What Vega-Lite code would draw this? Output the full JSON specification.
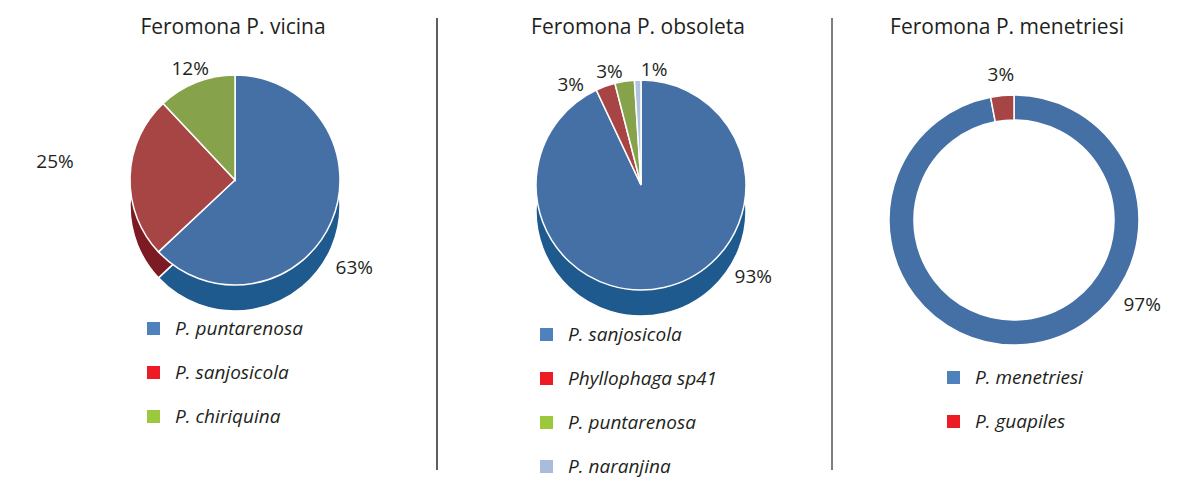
{
  "$schema": "https://vega.github.io/schema/vega-lite/v6.json",
  "background": "white",
  "padding": {"left": 0, "right": 0, "top": 16, "bottom": 0},
  "spacing": 0,
  "config": {
    "view": {"stroke": null},
    "font": "Open Sans",
    "title": {"font": "Open Sans", "fontSize": 21, "fontWeight": "normal", "color": "#231f20", "anchor": "middle", "baseline": "alphabetic", "offset": -20}
  },
  "hconcat": [
    {
      "width": 436, "height": 452,
      "title": {"text": "Feromona P. vicina", "dx": 15},
      "data": {"values": [
        {"species": "P. puntarenosa", "pct": 0.63, "idx": 1},
        {"species": "P. sanjosicola", "pct": 0.25, "idx": 2},
        {"species": "P. chiriquina", "pct": 0.12, "idx": 3}
      ]},
      "layer": [
        {
          "mark": {"type": "arc", "outerRadius": 105, "xOffset": 17, "yOffset": -38, "stroke": "white", "strokeWidth": 1.5},
          "encoding": {
            "theta": {"field": "pct", "type": "quantitative", "stack": true},
            "order": {"field": "idx", "type": "quantitative"},
            "color": {"field": "species", "type": "nominal", "scale": {"domain": ["P. puntarenosa", "P. sanjosicola", "P. chiriquina"], "range": ["#1f5a8f", "#7d1b24", "#5e7a2e"]}, "legend": null}
          }
        },
        {
          "mark": {"type": "arc", "outerRadius": 105, "xOffset": 17, "yOffset": -64, "stroke": "white", "strokeWidth": 1.5},
          "encoding": {
            "theta": {"field": "pct", "type": "quantitative", "stack": true},
            "order": {"field": "idx", "type": "quantitative"},
            "color": {"field": "species", "type": "nominal", "scale": {"domain": ["P. puntarenosa", "P. sanjosicola", "P. chiriquina"], "range": ["#4570a6", "#a64543", "#86a24a"]}, "legend": null}
          }
        },
        {
          "mark": {"type": "arc", "outerRadius": 0, "xOffset": 17, "yOffset": -64},
          "encoding": {
            "theta": {"field": "pct", "type": "quantitative", "stack": true},
            "order": {"field": "idx", "type": "quantitative"},
            "color": {"field": "species", "type": "nominal", "scale": {"domain": ["P. puntarenosa", "P. sanjosicola", "P. chiriquina"], "range": ["#4f81bd", "#ed1c24", "#9bc93b"]},
              "legend": {"orient": "none", "legendX": 144, "legendY": 301, "direction": "vertical", "title": null, "symbolType": "square", "symbolSize": 169, "symbolStrokeWidth": 0, "labelFont": "Open Sans", "labelFontSize": 19, "labelFontStyle": "italic", "labelColor": "#231f20", "rowPadding": 24, "labelOffset": 12}}
          }
        },
        {
          "mark": {"type": "text", "radius": 130, "xOffset": 17, "yOffset": -64, "fontSize": 19, "fill": "#231f20",
            "dx": {"expr": "datum.idx == 2 ? -50 : datum.idx == 3 ? 3 : 0"}, "dy": {"expr": "datum.idx == 1 ? 36 : datum.idx == 2 ? -14 : 10"}},
          "encoding": {
            "theta": {"field": "pct", "type": "quantitative", "stack": true},
            "order": {"field": "idx", "type": "quantitative"},
            "text": {"field": "pct", "type": "quantitative", "format": ".0%"}
          }
        }
      ],
      "resolve": {"scale": {"color": "independent"}, "legend": {"color": "independent"}}
    },
    {
      "width": 394, "height": 452,
      "title": {"text": "Feromona P. obsoleta", "dx": 4},
      "data": {"values": [
        {"species": "P. sanjosicola", "pct": 0.93, "idx": 1},
        {"species": "Phyllophaga sp41", "pct": 0.03, "idx": 2},
        {"species": "P. puntarenosa", "pct": 0.03, "idx": 3},
        {"species": "P. naranjina", "pct": 0.01, "idx": 4}
      ]},
      "layer": [
        {
          "mark": {"type": "rule", "color": "#555555", "strokeWidth": 1},
          "encoding": {"x": {"value": 0}}
        },
        {
          "mark": {"type": "arc", "outerRadius": 105, "xOffset": 7, "yOffset": -33, "stroke": "white", "strokeWidth": 1.5},
          "encoding": {
            "theta": {"field": "pct", "type": "quantitative", "stack": true},
            "order": {"field": "idx", "type": "quantitative"},
            "color": {"field": "species", "type": "nominal", "scale": {"domain": ["P. sanjosicola", "Phyllophaga sp41", "P. puntarenosa", "P. naranjina"], "range": ["#1f5a8f", "#7d1b24", "#5e7a2e", "#8497b5"]}, "legend": null}
          }
        },
        {
          "mark": {"type": "arc", "outerRadius": 105, "xOffset": 7, "yOffset": -59, "stroke": "white", "strokeWidth": 1.5},
          "encoding": {
            "theta": {"field": "pct", "type": "quantitative", "stack": true},
            "order": {"field": "idx", "type": "quantitative"},
            "color": {"field": "species", "type": "nominal", "scale": {"domain": ["P. sanjosicola", "Phyllophaga sp41", "P. puntarenosa", "P. naranjina"], "range": ["#4570a6", "#a64543", "#86a24a", "#b1c3de"]}, "legend": null}
          }
        },
        {
          "mark": {"type": "arc", "outerRadius": 0, "xOffset": 7, "yOffset": -59},
          "encoding": {
            "theta": {"field": "pct", "type": "quantitative", "stack": true},
            "order": {"field": "idx", "type": "quantitative"},
            "color": {"field": "species", "type": "nominal", "scale": {"domain": ["P. sanjosicola", "Phyllophaga sp41", "P. puntarenosa", "P. naranjina"], "range": ["#4f81bd", "#ed1c24", "#9bc93b", "#a9bcdb"]},
              "legend": {"orient": "none", "legendX": 100, "legendY": 307, "direction": "vertical", "title": null, "symbolType": "square", "symbolSize": 169, "symbolStrokeWidth": 0, "labelFont": "Open Sans", "labelFontSize": 19, "labelFontStyle": "italic", "labelColor": "#231f20", "rowPadding": 24, "labelOffset": 12}}
          }
        },
        {
          "mark": {"type": "text", "radius": 125, "xOffset": 7, "yOffset": -59, "fontSize": 19, "fill": "#231f20",
            "dx": {"expr": "datum.idx == 1 ? 85 : datum.idx == 2 ? -28 : datum.idx == 3 ? -12 : datum.idx == 4 ? 17 : 0"},
            "dy": {"expr": "datum.idx == 1 ? -30 : datum.idx == 2 ? 18 : 10"}},
          "encoding": {
            "theta": {"field": "pct", "type": "quantitative", "stack": true},
            "order": {"field": "idx", "type": "quantitative"},
            "text": {"field": "pct", "type": "quantitative", "format": ".0%"}
          }
        }
      ],
      "resolve": {"scale": {"color": "independent"}, "legend": {"color": "independent"}}
    },
    {
      "width": 362, "height": 452,
      "title": {"text": "Feromona P. menetriesi", "dx": -6},
      "data": {"values": [
        {"species": "P. menetriesi", "pct": 0.97, "idx": 1},
        {"species": "P. guapiles", "pct": 0.03, "idx": 2}
      ]},
      "layer": [
        {
          "mark": {"type": "rule", "color": "#555555", "strokeWidth": 1},
          "encoding": {"x": {"value": 0}}
        },
        {
          "mark": {"type": "arc", "outerRadius": 125, "innerRadius": 100, "xOffset": 1, "yOffset": -24, "stroke": "white", "strokeWidth": 1.5},
          "encoding": {
            "theta": {"field": "pct", "type": "quantitative", "stack": true},
            "order": {"field": "idx", "type": "quantitative"},
            "color": {"field": "species", "type": "nominal", "scale": {"domain": ["P. menetriesi", "P. guapiles"], "range": ["#4570a6", "#a64543"]}, "legend": null}
          }
        },
        {
          "mark": {"type": "arc", "outerRadius": 0, "xOffset": 1, "yOffset": -24},
          "encoding": {
            "theta": {"field": "pct", "type": "quantitative", "stack": true},
            "order": {"field": "idx", "type": "quantitative"},
            "color": {"field": "species", "type": "nominal", "scale": {"domain": ["P. menetriesi", "P. guapiles"], "range": ["#4f81bd", "#ed1c24"]},
              "legend": {"orient": "none", "legendX": 112, "legendY": 350, "direction": "vertical", "title": null, "symbolType": "square", "symbolSize": 169, "symbolStrokeWidth": 0, "labelFont": "Open Sans", "labelFontSize": 19, "labelFontStyle": "italic", "labelColor": "#231f20", "rowPadding": 24, "labelOffset": 12}}
          }
        },
        {
          "mark": {"type": "text", "radius": 140, "xOffset": 1, "yOffset": -24, "fontSize": 19, "fill": "#231f20",
            "dx": {"expr": "datum.idx == 1 ? 115 : 0"}, "dy": {"expr": "datum.idx == 1 ? -54 : -6"}},
          "encoding": {
            "theta": {"field": "pct", "type": "quantitative", "stack": true},
            "order": {"field": "idx", "type": "quantitative"},
            "text": {"field": "pct", "type": "quantitative", "format": ".0%"}
          }
        }
      ],
      "resolve": {"scale": {"color": "independent"}, "legend": {"color": "independent"}}
    }
  ],
  "resolve": {"scale": {"color": "independent", "theta": "independent"}, "legend": {"color": "independent"}}
}
